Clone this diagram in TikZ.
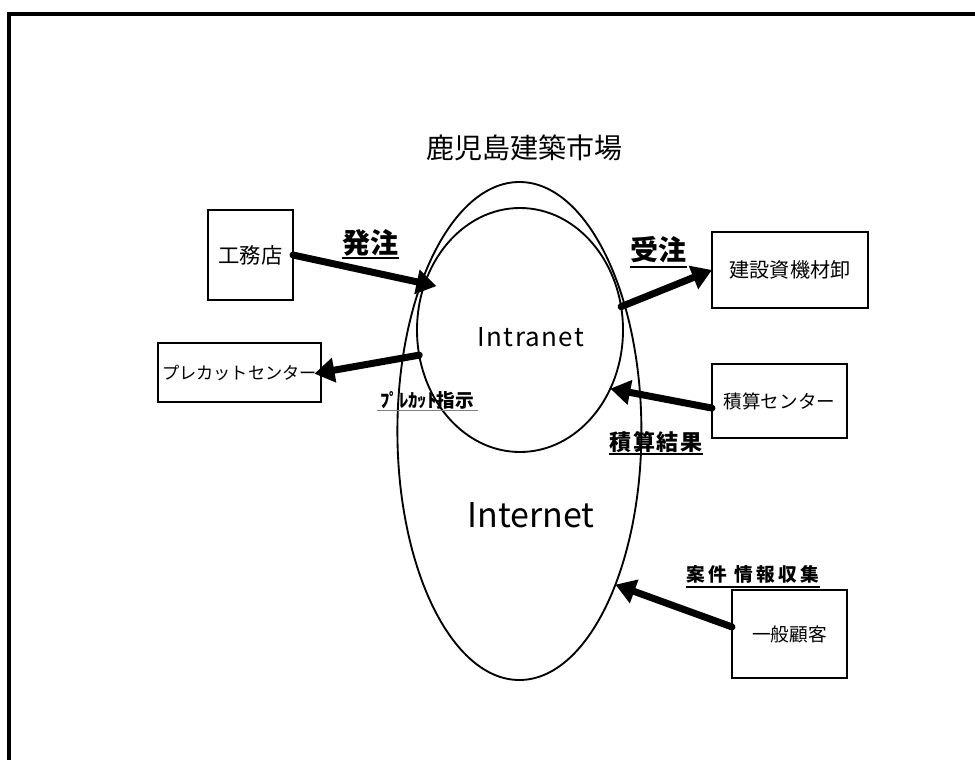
\documentclass[tikz,border=0pt]{standalone}
\usepackage{fontspec}
\setmainfont{Noto Sans CJK JP}
\usetikzlibrary{shapes.geometric,arrows.meta}
\begin{document}
\begin{tikzpicture}[x=0.75pt,y=-0.75pt,
  frame/.style={line width=3pt},
  box/.style={draw,line width=1.4pt,rectangle,inner sep=0pt,outer sep=0pt},
  zone/.style={draw,line width=1.4pt,ellipse,inner sep=0pt,outer sep=0pt},
  flow/.style={line width=5.25pt,line cap=round,-{Triangle[length=15pt,width=18pt]}},
  tag/.style={inner sep=0pt,font=\bfseries\fontsize{21}{21}\selectfont},
  uline/.style={line width=1.5pt}
]
\useasboundingbox (0,0) rectangle (975,760);

% page frame, running off the right and bottom edges
\begin{scope}
  \clip (0,0) rectangle (975,760);
  \draw[frame] (9.3,790) -- (9.3,13.8) -- (995,13.8);
\end{scope}

% network zones
\node[zone,minimum width=183pt,minimum height=373.5pt] (inet) at (519.4,431) {};
\node[zone,minimum width=154.5pt,minimum height=183pt] (intra) at (520,330) {};

\node[inner sep=0pt,font=\fontsize{21}{21}\selectfont] (title) at (524.5,147.5) {鹿児島建築市場};
\node[inner sep=0pt,font=\fontsize{19.5}{20}\selectfont\addfontfeature{LetterSpace=5}] (intraname) at (531,337.5) {Intranet};
\node[inner sep=0pt,font=\fontsize{25.5}{26}\selectfont] (inetname) at (531,515.5) {Internet};

% parties
\node[box,minimum width=63.75pt,minimum height=67.5pt,font=\fontsize{16}{16}\selectfont] (komu) at (250.5,255) {工務店};
\node[box,minimum width=122.25pt,minimum height=44.25pt,font=\fontsize{12.9}{13}\selectfont] (precut) at (239.5,372.5) {プレカットセンター};
\node[box,minimum width=117pt,minimum height=57pt,font=\fontsize{15.1}{15}\selectfont] (kenzai) at (790,270) {建設資機材卸};
\node[box,minimum width=101.25pt,minimum height=55.5pt,font=\fontsize{13.9}{14}\selectfont] (sekisan) at (779.5,401) {積算センター};
\node[box,minimum width=86.25pt,minimum height=66pt,font=\fontsize{14}{14}\selectfont] (kokyaku) at (789.5,634) {一般顧客};

% flows
\draw[flow,shorten >=-9pt] (komu.east) -- (intra.154);
\draw[flow,shorten >=-5pt] (intra.194.6) -- (precut.east);
\draw[flow] (intra.13.2) -- (kenzai.west);
\draw[flow] (sekisan.186) -- (intra.327);
\draw[flow] (kokyaku.173) -- (inet.302);

% flow labels
\node[tag] (hatchu) at (370.5,242.5) {発注};
\draw[uline] (hatchu.west |- 0,258) -- (hatchu.east |- 0,258);
\node[tag] (juchu) at (658.5,249.5) {受注};
\draw[uline] (juchu.west |- 0,267) -- (juchu.east |- 0,267);
\node[inner sep=0pt,font=\bfseries\fontsize{14}{14}\selectfont] (shiji) at (427,400) {ﾌﾟﾚｶｯﾄ指示};
\draw[line width=0.75pt,gray] (377,410) -- (478,410);
\node[inner sep=0pt,font=\bfseries\fontsize{16.5}{17}\selectfont\addfontfeature{LetterSpace=8}] (kekka) at (656,442.5) {積算結果};
\draw[uline] (kekka.west |- 0,454) -- (kekka.east |- 0,454);
\node[inner sep=0pt,font=\bfseries\fontsize{14}{14}\selectfont\addfontfeature{LetterSpace=18}] (anken) at (753,574.5) {案件 情報収集};
\draw[uline] (anken.west |- 0,587) -- (anken.east |- 0,587);
\end{tikzpicture}
\end{document}
